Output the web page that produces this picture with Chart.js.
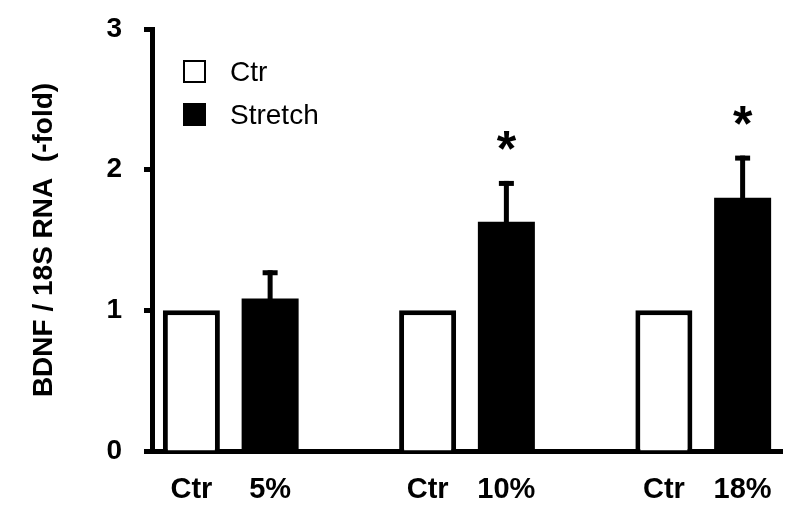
<!DOCTYPE html>
<html>
<head>
<meta charset="utf-8">
<script src="https://cdn.jsdelivr.net/npm/chart.js@4"></script>
<style>
  html, body { margin: 0; padding: 0; background: #fff; }
  #wrap { width: 800px; height: 521px; }
</style>
</head>
<body>
<div id="wrap"><canvas id="bdnfChart" width="800" height="521"></canvas></div>
<script>
// Stretch groups and measured values (fold change vs control)
const groups = ['5%', '10%', '18%'];
const ctrValues = [1, 1, 1];
const stretchValues = [1.085, 1.63, 1.80];
const stretchErrors = [0.20, 0.29, 0.30];
const significance = ['', '*', '*'];
const yTicks = [0, 1, 2, 3];

// Each group gets a Ctr slot, a Stretch slot and a blank spacer slot
const slotLabels = [];
const ctrData = [];
const stretchData = [];
const slotGroup = [];
groups.forEach((g, i) => {
  slotLabels.push('Ctr', g);
  ctrData.push(ctrValues[i], null);
  stretchData.push(null, stretchValues[i]);
  slotGroup.push(-1, i);
  if (i < groups.length - 1) {
    slotLabels.push('');
    ctrData.push(null);
    stretchData.push(null);
    slotGroup.push(-1);
  }
});

const FONT = "'Liberation Sans', Arial, Helvetica, sans-serif";

// Error bars (upper only) and significance stars
const errorBarPlugin = {
  id: 'errorBars',
  afterDatasetsDraw(chart) {
    const ctx = chart.ctx;
    const y = chart.scales.y;
    const meta = chart.getDatasetMeta(1);
    ctx.save();
    ctx.fillStyle = '#000';
    meta.data.forEach((bar, idx) => {
      const g = slotGroup[idx];
      if (g < 0 || stretchData[idx] == null) return;
      const topPx = y.getPixelForValue(stretchValues[g]);
      const errPx = y.getPixelForValue(stretchValues[g] + stretchErrors[g]);
      ctx.fillRect(bar.x - 2.5, errPx, 5, topPx - errPx + 1);
      ctx.fillRect(bar.x - 7.5, errPx, 15, 5);
      if (significance[g]) {
        const size = 50;
        ctx.font = 'bold ' + size + 'px ' + FONT;
        ctx.textAlign = 'center';
        ctx.textBaseline = 'alphabetic';
        ctx.fillText(significance[g], bar.x, errPx - 39 + size * 0.49);
      }
    });
    ctx.restore();
  }
};

// Legend drawn inside the plot, top left
const insideLegendPlugin = {
  id: 'insideLegend',
  afterDraw(chart) {
    const ctx = chart.ctx;
    ctx.save();
    chart.data.datasets.forEach((ds, i) => {
      const cy = 72 + i * 43;
      ctx.fillStyle = ds.backgroundColor;
      ctx.fillRect(183, cy - 12, 23, 23);
      ctx.strokeStyle = '#000';
      ctx.lineWidth = 2;
      ctx.strokeRect(184, cy - 11, 21, 21);
      ctx.fillStyle = '#000';
      ctx.font = '28px ' + FONT;
      ctx.textAlign = 'left';
      ctx.textBaseline = 'middle';
      ctx.fillText(ds.label, 230, cy + 1);
    });
    ctx.restore();
  }
};

const ctx = document.getElementById('bdnfChart').getContext('2d');
new Chart(ctx, {
  type: 'bar',
  data: {
    labels: slotLabels,
    datasets: [
      {
        label: 'Ctr',
        data: ctrData,
        backgroundColor: '#ffffff',
        borderColor: '#000000',
        borderWidth: 5,
        borderSkipped: 'bottom'
      },
      {
        label: 'Stretch',
        data: stretchData,
        backgroundColor: '#000000',
        borderColor: '#000000',
        borderWidth: 0
      }
    ]
  },
  options: {
    responsive: false,
    animation: false,
    grouped: false,
    barPercentage: 0.724,
    categoryPercentage: 1,
    layout: { padding: { top: 29, right: 18, left: 0, bottom: 0 } },
    plugins: {
      legend: { display: false },
      tooltip: { enabled: false }
    },
    scales: {
      x: {
        offset: true,
        grid: { display: false, drawTicks: false },
        border: { display: true, width: 5, color: '#000' },
        ticks: {
          color: '#000',
          font: { family: FONT, size: 29, weight: 'bold' },
          padding: 22,
          maxRotation: 0,
          autoSkip: false
        },
        afterFit(scale) { scale.height = 70; }
      },
      y: {
        min: 0,
        max: 3,
        afterBuildTicks(scale) { scale.ticks = yTicks.map(v => ({ value: v })); },
        grid: {
          drawOnChartArea: false,
          drawTicks: true,
          tickLength: 8,
          tickWidth: 5,
          tickColor: '#000'
        },
        border: { display: true, width: 5, color: '#000' },
        ticks: {
          color: '#000',
          font: { family: FONT, size: 28, weight: 'bold' },
          padding: 22
        },
        title: {
          display: true,
          text: 'BDNF / 18S RNA  (-fold)',
          color: '#000',
          font: { family: FONT, size: 28, weight: 'bold' },
          padding: { top: 27, bottom: 0 }
        },
        afterFit(scale) {
          scale.width = 152;
          scale.paddingTop = 0;
          scale.paddingBottom = 0;
        }
      }
    }
  },
  plugins: [errorBarPlugin, insideLegendPlugin]
});
</script>
</body>
</html>
